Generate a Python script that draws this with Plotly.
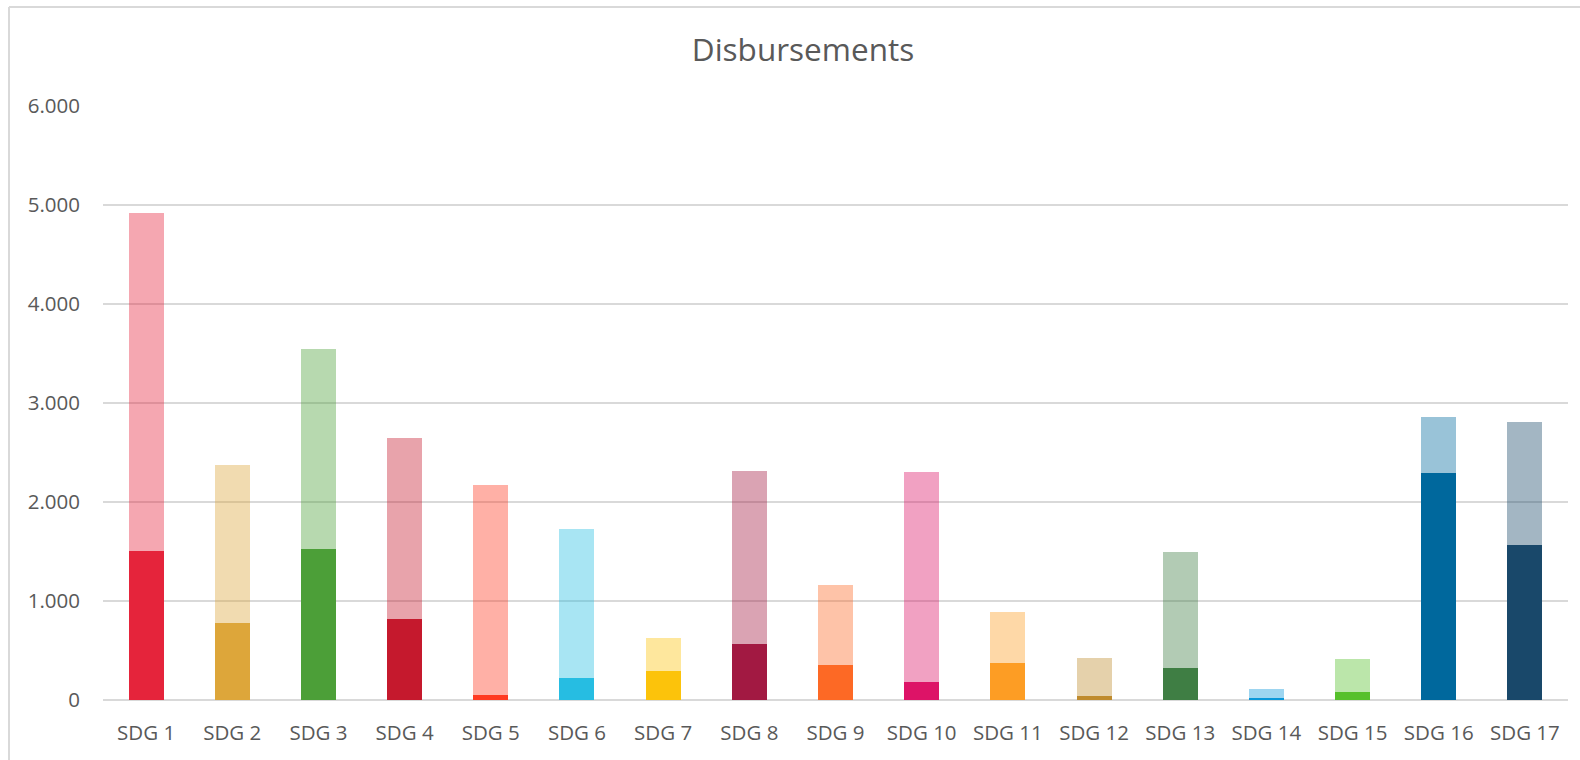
import plotly.graph_objects as go

# SDG categories
sdgs = [f"SDG {i}" for i in range(1, 18)]

# Disbursements per goal: lower (solid) segment and upper (lighter) segment
main_part = [1507, 780, 1527, 820, 53, 225, 296, 568, 356, 185, 376, 43, 326, 23, 84, 2294, 1570]
extra_part = [3410, 1594, 2018, 1827, 2120, 1504, 333, 1746, 807, 2119, 515, 384, 1170, 91, 333, 565, 1238]

# Official SDG palette
sdg_colors = [
    "#E5243B", "#DDA63A", "#4C9F38", "#C5192D", "#FF3A21", "#26BDE2",
    "#FCC30B", "#A21942", "#FD6925", "#DD1367", "#FD9D24", "#BF8B2E",
    "#3F7E44", "#0A97D9", "#56C02B", "#00689D", "#19486A",
]

y_ticks = [0, 1000, 2000, 3000, 4000, 5000, 6000]

TEXT = "#595959"
GRID = "#D9D9D9"
FONT = "Open Sans"

fig = go.Figure()
fig.add_trace(go.Bar(
    x=sdgs, y=main_part,
    marker=dict(color=sdg_colors, line=dict(width=0)),
    showlegend=False, hoverinfo="x+y",
))
fig.add_trace(go.Bar(
    x=sdgs, y=extra_part,
    marker=dict(color=sdg_colors, opacity=0.4, line=dict(width=0)),
    showlegend=False, hoverinfo="x+y",
))

L, R, T, B = 103, 12, 106, 60
W, H = 1580, 760
pw, ph = W - L - R, H - T - B

fig.update_layout(
    width=W, height=H,
    margin=dict(l=L, r=R, t=T, b=B),
    paper_bgcolor="white", plot_bgcolor="white",
    barmode="stack", bargap=0.594,
    separators=",.",
    font=dict(family=FONT, color=TEXT, size=20.5),
    title=dict(
        text="Disbursements", x=803 / W, xref="container", xanchor="center",
        y=1 - 50 / H, yref="container", yanchor="middle",
        font=dict(family=FONT, size=31.5, color=TEXT),
    ),
    xaxis=dict(
        showgrid=False, showline=False, zeroline=False,
        ticks="", ticklabelstandoff=18,
        tickfont=dict(family=FONT, size=20.5, color=TEXT),
        fixedrange=True,
    ),
    yaxis=dict(
        range=[0, 6000], tickvals=y_ticks, tickformat=",d",
        showgrid=True, gridcolor=GRID, gridwidth=1.5,
        zeroline=True, zerolinecolor=GRID, zerolinewidth=2,
        showline=False, ticks="", ticklabelstandoff=22,
        tickfont=dict(family=FONT, size=20.5, color=TEXT),
        fixedrange=True,
    ),
    shapes=[
        # chart frame (left and top edges)
        dict(type="line", xref="paper", yref="paper",
             x0=(9 - L) / pw, x1=(9 - L) / pw, y0=(H - B - 7) / ph, y1=-B / ph - 0.01,
             line=dict(color=GRID, width=2), layer="below"),
        dict(type="line", xref="paper", yref="paper",
             x0=(9 - L) / pw, x1=(W + 5 - L) / pw, y0=(H - B - 7) / ph, y1=(H - B - 7) / ph,
             line=dict(color=GRID, width=2), layer="below"),
    ],
)

fig.write_html("out.html")
